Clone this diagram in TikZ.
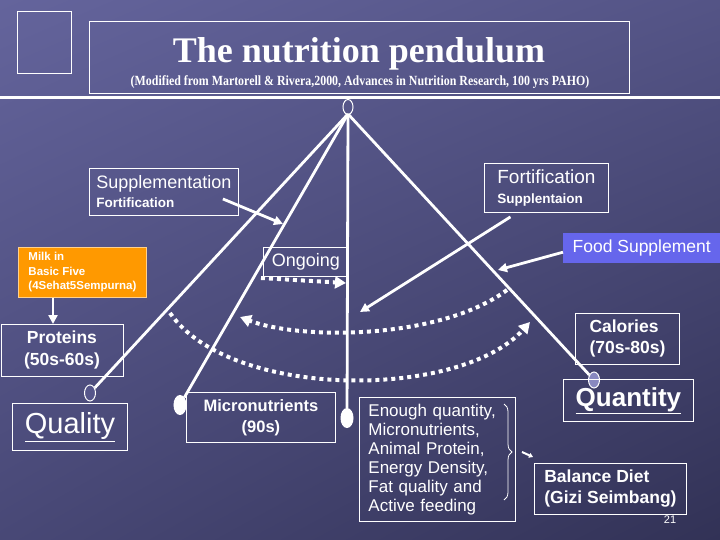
\documentclass[tikz,border=0pt]{standalone}
\usepackage{fontspec}
\setmainfont{Liberation Sans}
\newfontfamily\titlefont{Liberation Serif}
\newfontfamily\srcfont[FakeStretch=0.85]{Liberation Serif}
\usepackage{tikz}
\usetikzlibrary{shapes.geometric,arrows.meta,positioning,calc,decorations.pathreplacing,shadings}
\definecolor{bgTopLeft}{RGB}{100,100,156}
\definecolor{bgTopRight}{RGB}{84,84,134}
\definecolor{bgLowLeft}{RGB}{72,72,118}
\definecolor{bgLowRight}{RGB}{50,50,86}
\definecolor{bobFill}{RGB}{86,86,138}
\definecolor{bobLav}{RGB}{136,136,192}
\definecolor{foodBlue}{RGB}{102,102,236}
\definecolor{milkOrange}{RGB}{255,153,0}

\begin{document}
\begin{tikzpicture}[x=1pt,y=-1pt,
    box/.style={draw=white, line width=0.9pt, text=white, inner sep=0pt, anchor=north west},
    pend/.style={white, line width=2.8pt},
    arr/.style={white, line width=2.8pt, -{Triangle[length=9pt,width=9pt]}},
    dotarr/.style={white, line width=4pt, dash pattern=on 4pt off 4pt,
                   -{Triangle[length=11pt,width=12pt]}},
    bob/.style={ellipse, draw=white, line width=1pt, inner sep=0pt,
                minimum width=11pt, minimum height=16pt}]

  % slide background
  \shade[upper left=bgTopLeft, upper right=bgTopRight,
         lower left=bgLowLeft, lower right=bgLowRight] (0,0) rectangle (720,540);
  \useasboundingbox (0,0) rectangle (720,540);
  \fill[white] (0,96) rectangle (720,99);

  % heading
  \node[box, minimum width=54, minimum height=62] (logo) at (17,11) {};
  \node[box, minimum width=540, minimum height=72] (titlebox) at (89,21) {};
  \node[text=white, font=\titlefont\bfseries\fontsize{36}{40}\selectfont]
    (title) at (359,53.6) {The nutrition pendulum};
  \node[text=white, font=\srcfont\bfseries\fontsize{14}{16}\selectfont]
    (source) at (360,82) {(Modified from Martorell \& Rivera,2000, Advances in Nutrition Research, 100 yrs PAHO)};

  % pendulum
  \node[bob, minimum width=10, minimum height=15] (pivot) at (348,107) {};
  \coordinate (hub) at (348,114);
  \node[bob, fill=bobFill] (bobQual) at (90,393) {};
  \node[bob, fill=white, minimum width=12, minimum height=19] (bobMicro) at (180,405) {};
  \node[bob, fill=white, minimum width=12, minimum height=19] (bobMid) at (347,418) {};
  \node[bob, fill=bobLav] (bobQuan) at (594,380) {};
  \draw[pend] (hub) -- (bobQual);
  \draw[pend] (hub) -- (bobMicro);
  \draw[pend] (hub) -- (bobMid);
  \draw[pend] (hub) -- (bobQuan);

  % boxes
  \node[box, minimum width=149, minimum height=47, align=left,
        font=\fontsize{18}{20}\selectfont] (supp) at (89,168)
    {Supplementation\\[-1pt]{\bfseries\fontsize{13.5}{15}\selectfont Fortification}};
  \node[box, minimum width=124, minimum height=49, align=left,
        font=\fontsize{19}{21}\selectfont] (forti) at (484,163)
    {Fortification\\[-1pt]{\bfseries\fontsize{13.5}{15}\selectfont Supplentaion}};
  \node[fill=foodBlue, text=white, inner sep=0pt, anchor=north west,
        minimum width=157, minimum height=30, font=\fontsize{17.5}{20}\selectfont]
    (food) at (563,233) {Food Supplement};
  \node[box, minimum width=85, minimum height=29, font=\fontsize{18}{20}\selectfont]
    (ongoing) at (263,247) {Ongoing};
  \node[box, fill=milkOrange, draw=white!55!milkOrange, minimum width=128, minimum height=50,
        align=left, font=\bfseries\fontsize{11.5}{14.5}\selectfont] (milk) at (18,247)
    {Milk in\\Basic Five\\(4Sehat5Sempurna)};
  \node[box, minimum width=122, minimum height=52, align=center,
        font=\bfseries\fontsize{17.5}{22}\selectfont] (proteins) at (0.5,324)
    {Proteins\\(50s-60s)};
  \node[box, minimum width=115, minimum height=47, font=\fontsize{29}{32}\selectfont]
    (quality) at (12,403) {\underline{Quality}};
  \node[box, minimum width=149, minimum height=50, align=center,
        font=\bfseries\fontsize{16.5}{21}\selectfont] (micro) at (186,392)
    {Micronutrients\\(90s)};
  \node[box, minimum height=124, inner xsep=9pt, text width=138, align=left,
        font=\fontsize{17}{19}\selectfont] (enough) at (359,397)
    {Enough quantity,\\Micronutrients,\\Animal Protein,\\Energy Density,\\Fat quality and\\Active feeding};
  \node[box, minimum width=104, minimum height=51, align=left,
        font=\bfseries\fontsize{17.5}{21}\selectfont] (calories) at (575,313)
    {Calories\\(70s-80s)};
  \node[box, minimum width=130, minimum height=42, font=\bfseries\fontsize{26}{28}\selectfont]
    (quantity) at (563,379) {\underline{Quantity}};
  \node[box, minimum width=152, minimum height=51, align=left,
        font=\bfseries\fontsize{17.5}{21}\selectfont] (balance) at (534,463)
    {Balance Diet\\(Gizi Seimbang)};
  \node[text=white, font=\fontsize{11}{12}\selectfont] (pagenum) at (670,520) {21};

  % arrows
  \coordinate (suppTip) at (283,224);
  \coordinate (fortiTip) at (360,312);
  \coordinate (foodTip) at (498,270);
  \coordinate (ongoingTip) at (346,283);
  \draw[arr] ([shift={(-16,7)}]supp.east) -- (suppTip);
  \draw[arr] ([shift={(-36,4)}]forti.south) -- (fortiTip);
  \draw[arr] ([shift={(0,4)}]food.west) -- (foodTip);
  \draw[arr, line width=2.4pt] ([xshift=35pt]milk.south west) -- ([xshift=35pt]milk.south west |- proteins.north);

  % swings
  \coordinate (upR) at (507,290);
  \coordinate (upL) at (240,317);
  \coordinate (loL) at (170,313);
  \coordinate (loR) at (530,322);
  \draw[dotarr] ([shift={(-2,31)}]ongoing.north west) -- (ongoingTip);
  \draw[dotarr] (upR) .. controls (440,340) and (300,340) .. (upL);
  \draw[dotarr] (loL) .. controls (230,400) and (460,400) .. (loR);

  % brace
  \draw[white, line width=0.8pt, decorate, decoration={brace, amplitude=8pt}]
    (504,404) -- (504,500);
  \coordinate (braceTip) at (522,452);
  \draw[white, line width=2pt, -{Triangle[length=4pt,width=5pt]}]
    (braceTip) -- ([shift={(-1,-6)}]balance.north west);
\end{tikzpicture}
\end{document}
